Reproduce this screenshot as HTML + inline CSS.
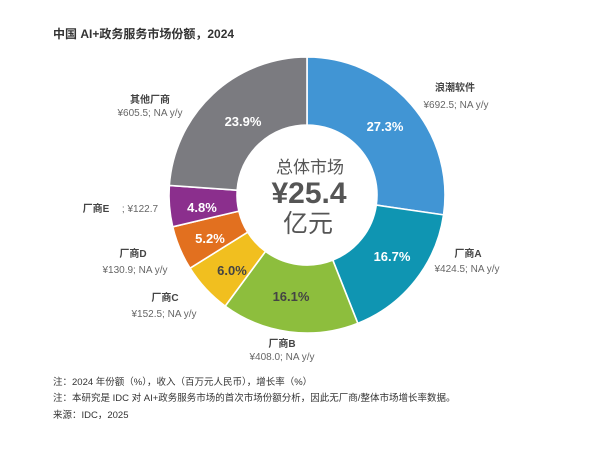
<!DOCTYPE html>
<html><head><meta charset="utf-8"><style>
html,body{margin:0;padding:0;background:#fff;}
body{width:600px;height:452px;overflow:hidden;position:relative;font-family:"Liberation Sans","Noto Sans CJK SC",sans-serif;}
svg{position:absolute;left:0;top:0;}
</style></head><body>
<svg width="600" height="452" viewBox="0 0 600 452" xmlns="http://www.w3.org/2000/svg" font-family="Liberation Sans, Noto Sans CJK SC, sans-serif">
<rect x="0" y="0" width="600" height="452" fill="#fff"/>
<text x="53" y="38" font-size="12" font-weight="bold" fill="#333">中国 AI+政务服务市场份额，2024</text>
<g stroke="#fff" stroke-width="1.6" stroke-linejoin="round">
<path d="M307,57 A138,138 0 0 1 443.56,214.87 L376.27,205.08 A70,70 0 0 0 307,125 Z" fill="#4195d4"/>
<path d="M443.56,214.87 A138,138 0 0 1 357.80,323.31 L332.77,260.08 A70,70 0 0 0 376.27,205.08 Z" fill="#0f95b2"/>
<path d="M357.80,323.31 A138,138 0 0 1 225.18,306.13 L265.50,251.37 A70,70 0 0 0 332.77,260.08 Z" fill="#8dbe3d"/>
<path d="M225.18,306.13 A138,138 0 0 1 190.03,268.23 L247.67,232.15 A70,70 0 0 0 265.50,251.37 Z" fill="#f1bf1f"/>
<path d="M190.03,268.23 A138,138 0 0 1 172.71,226.80 L238.88,211.13 A70,70 0 0 0 247.67,232.15 Z" fill="#e2701f"/>
<path d="M172.71,226.80 A138,138 0 0 1 169.33,185.47 L237.17,190.17 A70,70 0 0 0 238.88,211.13 Z" fill="#8b2f8d"/>
<path d="M169.33,185.47 A138,138 0 0 1 307,57 L307,125 A70,70 0 0 0 237.17,190.17 Z" fill="#7b7b80"/>
</g>
<g font-size="13" font-weight="bold" text-anchor="middle">
<text x="385" y="131" fill="#fff">27.3%</text>
<text x="243" y="126" fill="#fff">23.9%</text>
<text x="392" y="261" fill="#fff">16.7%</text>
<text x="291" y="301" fill="#444">16.1%</text>
<text x="232" y="275" fill="#444">6.0%</text>
<text x="210" y="243" fill="#fff">5.2%</text>
<text x="202" y="212" fill="#fff">4.8%</text>
</g>
<g text-anchor="middle" fill="#555">
<text x="310" y="173" font-size="17">总体市场</text>
<text x="309" y="203" font-size="30" font-weight="bold">¥25.4</text>
<text x="308" y="232" font-size="25">亿元</text>
</g>
<g font-size="10" text-anchor="middle">
<text x="455" y="91" font-weight="bold" fill="#444">浪潮软件</text>
<text x="456" y="108" fill="#666">¥692.5; NA y/y</text>
<text x="468" y="257" font-weight="bold" fill="#444">厂商A</text>
<text x="467" y="272" fill="#666">¥424.5; NA y/y</text>
<text x="150" y="103" font-weight="bold" fill="#444">其他厂商</text>
<text x="150" y="116" fill="#666">¥605.5; NA y/y</text>
<text x="96" y="212" font-weight="bold" fill="#444">厂商E</text>
<text x="140" y="212" fill="#666">; ¥122.7</text>
<text x="133" y="257" font-weight="bold" fill="#444">厂商D</text>
<text x="135" y="273" fill="#666">¥130.9; NA y/y</text>
<text x="165" y="301" font-weight="bold" fill="#444">厂商C</text>
<text x="164" y="317" fill="#666">¥152.5; NA y/y</text>
<text x="282" y="347" font-weight="bold" fill="#444">厂商B</text>
<text x="282" y="360" fill="#666">¥408.0; NA y/y</text>
</g>
<g font-size="9.5" fill="#333">
<text x="53" y="385">注：2024 年份额（%），收入（百万元人民币），增长率（%）</text>
<text x="53" y="401">注：本研究是 IDC 对 AI+政务服务市场的首次市场份额分析，因此无厂商/整体市场增长率数据。</text>
<text x="53" y="418">来源：IDC，2025</text>
</g>
</svg>
</body></html>
